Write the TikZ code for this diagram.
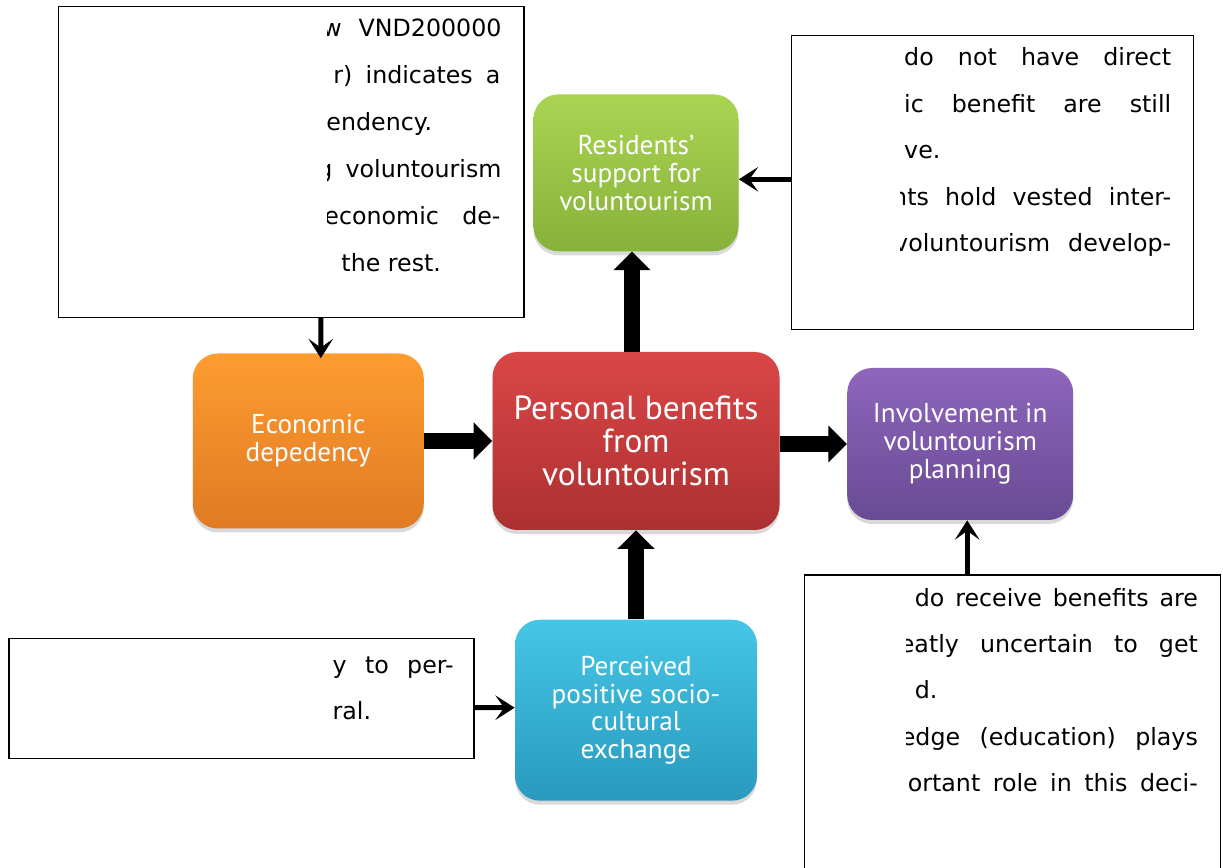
\documentclass[tikz,border=0pt]{standalone}
\usepackage{fontspec}
\setmainfont{DejaVu Sans}
\newfontfamily\boxfont{PT Sans}
\usetikzlibrary{positioning,shadows,arrows.meta}

\definecolor{grnTop}{RGB}{170,212,82}
\definecolor{grnBot}{RGB}{135,178,58}
\definecolor{orgTop}{RGB}{253,156,48}
\definecolor{orgBot}{RGB}{224,122,36}
\definecolor{redTop}{RGB}{219,70,70}
\definecolor{redBot}{RGB}{172,48,50}
\definecolor{prpTop}{RGB}{142,102,188}
\definecolor{prpBot}{RGB}{106,74,148}
\definecolor{cynTop}{RGB}{70,198,230}
\definecolor{cynBot}{RGB}{40,154,190}

\begin{document}
\begin{tikzpicture}[factor/.style={rounded corners=0.5cm,text=white,align=center,inner sep=0pt,font=\boxfont\fontsize{15.5}{15.8}\selectfont,drop shadow={opacity=0.3,shadow xshift=0pt,shadow yshift=-0.08cm}},
    note/.style={draw,line width=0.8pt,fill=white,inner sep=0pt},
    bigarrow/.style={line width=9pt,-{Triangle[length=10.5pt,width=20.5pt]}},
    smallarrow/.style={line width=2.8pt,-{Stealth[length=11pt,width=14pt,inset=5pt]}},
    line/.style={anchor=base west,inner sep=0pt,font=\fontsize{13.5}{15}\selectfont}] %
    \useasboundingbox (-12.72,-8.54) rectangle (11.74,8.82); %
    \node[factor,top color=redTop,bottom color=redBot,minimum width=5.74cm,minimum height=3.56cm,font=\boxfont\fontsize{19}{18.7}\selectfont] (personal) at (0,0) {Personal benefits\\from\\voluntourism}; %
    \node[factor,top color=orgTop,bottom color=orgBot,minimum width=4.62cm,minimum height=3.5cm,left=1.36cm of personal] (econ) {Econornic\\depedency}; %
    \node[factor,top color=prpTop,bottom color=prpBot,minimum width=4.52cm,minimum height=3.04cm,right=1.34cm of personal,yshift=-0.06cm] (involve) {Involvement in\\voluntourism\\planning}; %
    \node[factor,top color=grnTop,bottom color=grnBot,minimum width=4.1cm,minimum height=3.14cm,above=2cm of personal] (resid) {Residents’\\support for\\voluntourism}; %
    \node[factor,top color=cynTop,bottom color=cynBot,minimum width=4.84cm,minimum height=3.62cm,below=1.78cm of personal] (percv) {Perceived\\positive socio-\\cultural\\exchange}; %
    \node[note,minimum width=9.3cm,minimum height=6.22cm,above=0.7cm of econ,xshift=-0.34cm] (noteTL) {}; %
    \node[note,minimum width=8.04cm,minimum height=5.88cm,right=1.04cm of resid,yshift=-0.19cm] (noteTR) {}; %
    \node[note,minimum width=8.32cm,minimum height=6.52cm,below=1.08cm of involve,xshift=1.04cm] (noteBR) {}; %
    \node[note,minimum width=9.3cm,minimum height=2.4cm,left=0.8cm of percv,yshift=0.23cm] (noteBL) {}; %
    % texts of the notes
    \begin{scope}[shift={(noteTL.north west)},x=0.02cm,y=-0.02cm]
      \clip (269,0) rectangle (465,311);
      \node[line] (tl1) at (264,31) {\makebox[3.58cm][s]{w VND200000}};
      \node[line] (tl2) at (275,78) {\makebox[3.34cm][s]{r) indicates a}};
      \node[line] (tl3) at (268,125) {endency.};
      \node[line] (tl4) at (259,172) {\makebox[3.68cm][s]{g voluntourism}};
      \node[line] (tl5) at (266,219) {\makebox[3.52cm][s]{economic de-}};
      \node[line] (tl6) at (283,266) {the rest.};
    \end{scope}
    \begin{scope}[shift={(noteTR.north west)},x=0.02cm,y=-0.02cm]
      \clip (110,0) rectangle (402,294);
      \node[line] (tr1) at (113,31) {\makebox[5.34cm][s]{do not have direct}};
      \node[line] (tr2) at (113,78) {\makebox[5.34cm][s]{ic benefit are still}};
      \node[line] (tr3) at (113,124) {ve.};
      \node[line] (tr4) at (101,171) {\makebox[5.58cm][s]{nts hold vested inter-}};
      \node[line] (tr5) at (103,217) {\makebox[5.54cm][s]{voluntourism develop-}};
    \end{scope}
    \begin{scope}[shift={(noteBR.north west)},x=0.02cm,y=-0.02cm]
      \clip (103,0) rectangle (416,326);
      \node[line] (br1) at (111,32) {\makebox[5.66cm][s]{do receive benefits are}};
      \node[line] (br2) at (96,78) {\makebox[5.96cm][s]{eatly uncertain to get}};
      \node[line] (br3) at (111,124) {d.};
      \node[line] (br4) at (97,171) {\makebox[5.94cm][s]{edge (education) plays}};
      \node[line] (br5) at (104,217) {\makebox[5.8cm][s]{ortant role in this deci-}};
    \end{scope}
    \begin{scope}[shift={(noteBL.north west)},x=0.02cm,y=-0.02cm]
      \clip (321,0) rectangle (465,120);
      \node[line] (bl1) at (324,35) {\makebox[2.42cm][s]{y to per-}};
      \node[line] (bl2) at (324,81) {ral.};
    \end{scope}
    % arrows
    \draw[bigarrow] (econ.east) -- (econ.east -| personal.west); %
    \draw[bigarrow] (personal.east |- involve.west) -- (involve.west); %
    \draw[bigarrow] ([xshift=-0.08cm]personal.north) -- ([xshift=-0.08cm]personal.north |- resid.south); %
    \draw[bigarrow] (percv.north) -- (percv.north |- personal.south); %
    \draw[smallarrow,shorten >=-0.1cm] ([xshift=0.59cm]noteTL.south) -- ([xshift=0.25cm]econ.north); %
    \draw[smallarrow] ([yshift=0.06cm]noteTR.west) -- ([yshift=-0.13cm]resid.east); %
    \draw[smallarrow] ([yshift=-0.18cm]noteBL.east) -- ([yshift=0.05cm]percv.west); %
    \draw[smallarrow] ([xshift=-0.9cm]noteBR.north) -- ([xshift=0.14cm]involve.south); %
  \end{tikzpicture}
\end{document}
